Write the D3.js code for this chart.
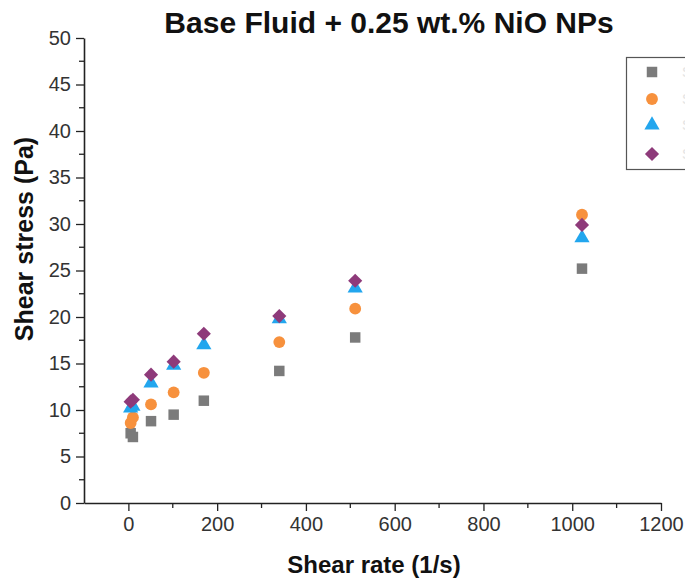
<!DOCTYPE html>
<html>
<head>
<meta charset="utf-8">
<script src="https://cdn.jsdelivr.net/npm/d3@7"></script>
<style>
  html, body { margin: 0; padding: 0; background: #fff; overflow: hidden; }
  svg { display: block; }
</style>
</head>
<body>
<svg id="chart" width="685" height="580"></svg>
<script>
// ---- data ----
const shearRates = [5.1, 10.2, 51, 102, 170, 340, 511, 1022];
const seriesNames = ["Series 1", "Series 2", "Series 3", "Series 4"];
const seriesA = [7.5, 7.1, 8.8, 9.5, 11.0, 14.2, 17.8, 25.2];   // grey squares
const seriesB = [8.6, 9.2, 10.6, 11.9, 14.0, 17.3, 20.9, 31.0]; // orange circles
const seriesC = [10.2, 10.4, 12.9, 14.8, 17.0, 19.8, 23.1, 28.5]; // blue triangles
const seriesD = [10.9, 11.1, 13.8, 15.2, 18.2, 20.1, 23.9, 29.9]; // purple diamonds
const xTicks = [0, 200, 400, 600, 800, 1000, 1200];
const yTicks = [0, 5, 10, 15, 20, 25, 30, 35, 40, 45, 50];

const seriesValues = [seriesA, seriesB, seriesC, seriesD];
const colors = ["#7b7b7b", "#f7913d", "#22a6ee", "#8e3a7a"];
const symbols = [d3.symbolSquare, d3.symbolCircle, d3.symbolTriangle, d3.symbolSquare];
const sizes = [110, 110, 100, 100];
const rotations = [0, 0, 0, 45];

const svg = d3.select("#chart");
const font = "'Liberation Sans', Arial, sans-serif";

const x = d3.scaleLinear().domain([-100, 1200]).range([84, 661]);
const y = d3.scaleLinear().domain([0, 50]).range([503, 38]);

// minor ticks
const xMinor = d3.range(100, 1200, 200);
const yMinor = d3.range(2.5, 50, 5);

const axisColor = "#222";

// X axis
const gx = svg.append("g").attr("transform", `translate(0,${y(0)})`);
gx.call(d3.axisBottom(x).tickValues(xTicks).tickSize(8).tickPadding(6).tickSizeOuter(0).tickFormat(d3.format("d")));
gx.append("g").selectAll("line").data(xMinor).join("line")
  .attr("x1", d => x(d)).attr("x2", d => x(d)).attr("y1", 0).attr("y2", 5)
  .attr("stroke", axisColor).attr("stroke-width", 1.3);

// Y axis
const gy = svg.append("g").attr("transform", `translate(${x(-100)},0)`);
gy.call(d3.axisLeft(y).tickValues(yTicks).tickSize(8).tickPadding(5).tickSizeOuter(0));
gy.append("g").selectAll("line").data(yMinor).join("line")
  .attr("y1", d => y(d)).attr("y2", d => y(d)).attr("x1", 0).attr("x2", -5)
  .attr("stroke", axisColor).attr("stroke-width", 1.3);

[gx, gy].forEach(g => {
  g.select(".domain").attr("stroke", axisColor).attr("stroke-width", 1.6);
  g.selectAll(".tick line").attr("stroke", axisColor).attr("stroke-width", 1.3);
  g.selectAll(".tick text").attr("fill", "#333").style("font-family", font).style("font-size", "20px");
});

// Points
seriesValues.forEach((vals, i) => {
  const sym = d3.symbol().type(symbols[i]).size(sizes[i]);
  svg.append("g").selectAll("path").data(vals).join("path")
    .attr("transform", (d, j) => `translate(${x(shearRates[j])},${y(d)}) rotate(${rotations[i]})`)
    .attr("d", sym)
    .attr("fill", colors[i]);
});

// Title
svg.append("text")
  .attr("x", 389).attr("y", 33)
  .attr("text-anchor", "middle")
  .style("font-family", font).style("font-weight", "bold").style("font-size", "30px")
  .attr("fill", "#111")
  .text("Base Fluid + 0.25 wt.% NiO NPs");

// Axis titles
svg.append("text")
  .attr("x", 374).attr("y", 573)
  .attr("text-anchor", "middle")
  .style("font-family", font).style("font-weight", "bold").style("font-size", "24px")
  .attr("fill", "#111")
  .text("Shear rate (1/s)");

svg.append("text")
  .attr("transform", "translate(33,239) rotate(-90)")
  .attr("text-anchor", "middle")
  .style("font-family", font).style("font-weight", "bold").style("font-size", "25px")
  .attr("fill", "#111")
  .text("Shear stress (Pa)");

// Legend
const lg = svg.append("g");
lg.append("rect")
  .attr("x", 626.5).attr("y", 57.5).attr("width", 120).attr("height", 112)
  .attr("fill", "#fff").attr("stroke", "#555").attr("stroke-width", 1.2);
const legendY = [72, 99, 125, 154];
seriesNames.forEach((name, i) => {
  lg.append("path")
    .attr("transform", `translate(652,${legendY[i]}) rotate(${rotations[i]})`)
    .attr("d", d3.symbol().type(symbols[i]).size(sizes[i])())
    .attr("fill", colors[i]);
  lg.append("text")
    .attr("x", 682).attr("y", legendY[i] + 5)
    .style("font-family", font).style("font-size", "14px")
    .attr("fill", "#e4e4e4")
    .text(name);
});
</script>
</body>
</html>
